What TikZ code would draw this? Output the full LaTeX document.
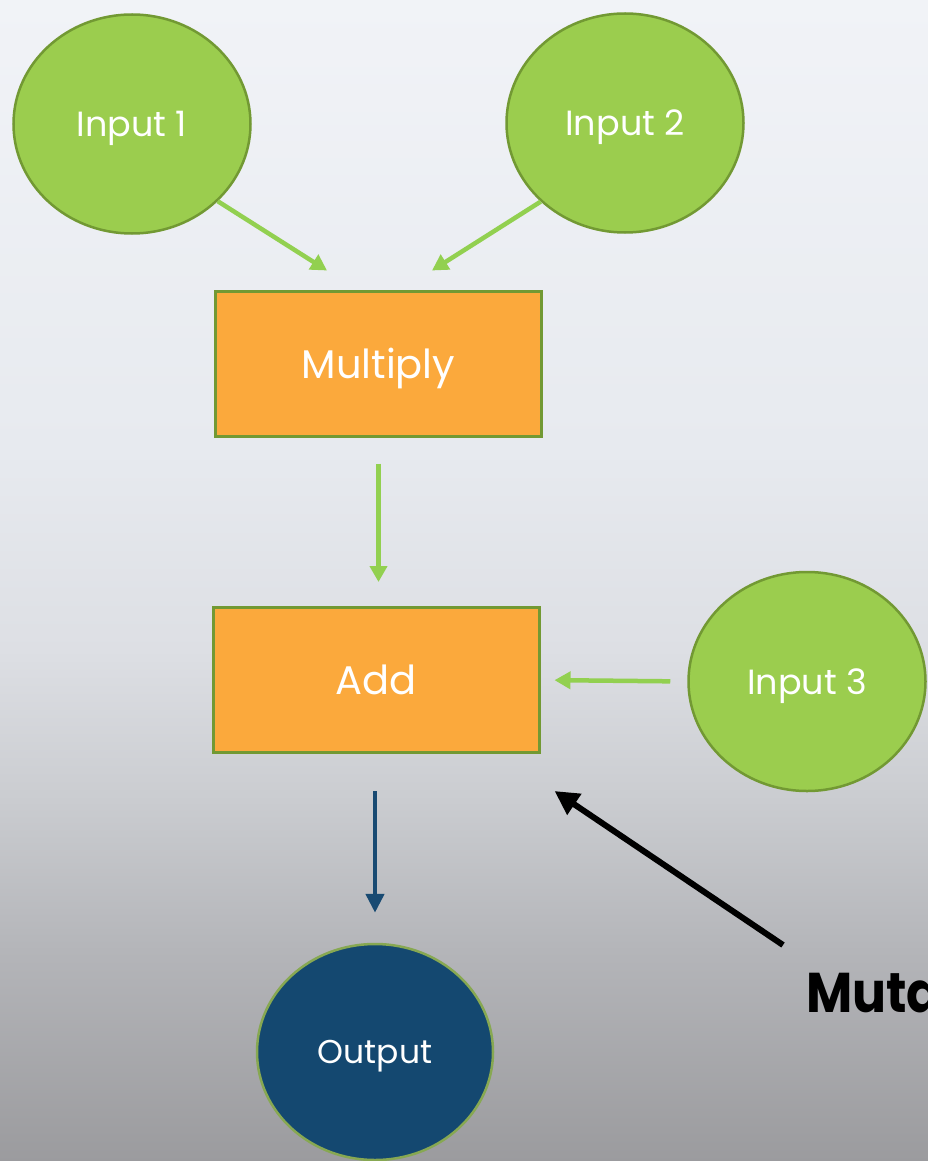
\documentclass[tikz,border=0pt]{standalone}
\usepackage{fontspec}
\setmainfont{Poppins}
\usetikzlibrary{shapes.geometric,arrows.meta}

\definecolor{bgA}{RGB}{241,243,247}
\definecolor{bgB}{RGB}{231,234,239}
\definecolor{bgC}{RGB}{221,223,228}
\definecolor{bgD}{RGB}{202,204,208}
\definecolor{bgE}{RGB}{180,181,185}
\definecolor{bgF}{RGB}{155,155,158}
\definecolor{leaf}{RGB}{155,205,78}
\definecolor{leafedge}{RGB}{114,153,51}
\definecolor{boxfill}{RGB}{251,169,60}
\definecolor{navy}{RGB}{20,72,112}
\definecolor{flowgreen}{RGB}{146,208,80}
\definecolor{flowblue}{RGB}{24,74,114}

\tikzset{
  centred/.style={text depth=0pt},
  inputnode/.style={ellipse, draw=leafedge, line width=2.5pt, fill=leaf,
    minimum width=237pt, minimum height=219pt, inner sep=0pt, centred,
    text=white, font=\fontsize{35}{38}\selectfont},
  opnode/.style={rectangle, draw=leafedge, line width=3pt, fill=boxfill,
    minimum width=326pt, minimum height=145pt, inner sep=0pt, centred,
    text=white, font=\fontsize{40}{44}\selectfont},
  outnode/.style={ellipse, draw=leafedge!85!white, line width=2.5pt, fill=navy,
    minimum width=236pt, minimum height=216pt, inner sep=0pt, centred,
    text=white, font=\fontsize{33}{36}\selectfont},
  greenflow/.style={draw=flowgreen, line width=4.5pt,
    -{Triangle[length=16pt,width=17pt]}},
  blueflow/.style={draw=flowblue, line width=4.5pt,
    -{Triangle[length=19pt,width=18pt]}},
  pointer/.style={draw=black, line width=6pt,
    -{Triangle[length=24pt,width=24pt]}},
  tag/.style={anchor=base west, inner sep=0pt, text=black,
    font=\bfseries\fontsize{56}{60}\selectfont},
}

\begin{document}
\begin{tikzpicture}[x=1pt,y=-1pt]
  \useasboundingbox (0,0) rectangle (928,1161);
  \clip (0,0) rectangle (928,1161);

  % soft vertical backdrop, light at the top and grey at the foot
  \shade[top color=bgA, bottom color=bgB] (0,-1) rectangle (928,451);
  \shade[top color=bgB, bottom color=bgC] (0,450) rectangle (928,651);
  \shade[top color=bgC, bottom color=bgD] (0,650) rectangle (928,801);
  \shade[top color=bgD, bottom color=bgE] (0,800) rectangle (928,951);
  \shade[top color=bgE, bottom color=bgF] (0,950) rectangle (928,1162);

  % operands and operations
  \node[inputnode] (in1) at (132,124) {Input 1};
  \node[inputnode] (in2) at (625,123) {Input 2};
  \node[opnode]    (mul) at (378.5,363.5) {Multiply};
  \node[opnode]    (add) at (376,680) {Add};
  \node[inputnode] (in3) at (807,681.5) {Input 3};
  \node[outnode]   (out) at (375,1052) {Output};

  % label for the mutated operation, running off the right edge
  \node[tag] (mut) at (806,1012) {\scalebox{0.9}[1]{Mutation}};
  \coordinate (muttail) at (783,945);

  % data flow
  \draw[greenflow] (in1.-42) -- ([xshift=-51.5pt,yshift=19pt]mul.north);
  \draw[greenflow] (in2.-137) -- ([xshift=53.5pt,yshift=19pt]mul.north);
  \draw[greenflow, shorten <=26pt, shorten >=24pt] (mul.south) -- (add.north -| mul.south);
  \draw[greenflow, shorten <=17pt, shorten >=14pt] (in3.west) -- (add.east);
  \draw[blueflow, shorten <=37pt, shorten >=30pt] (add.south -| out.north) -- (out.north);
  \draw[pointer] (muttail) -- ([xshift=14pt,yshift=-37pt]add.south east);
\end{tikzpicture}
\end{document}
